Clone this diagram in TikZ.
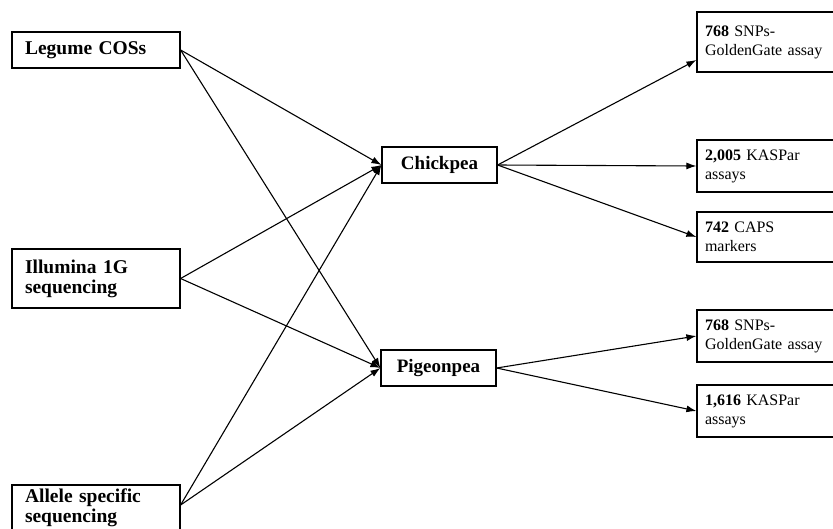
\documentclass[tikz,border=0pt]{standalone}
\usepackage{fontspec}
\setmainfont{Liberation Serif}
\usetikzlibrary{arrows.meta}
\begin{document}
\begin{tikzpicture}[x=1pt,y=-1pt,
  box/.style={draw, line width=1.2pt, rectangle, inner sep=0pt},
  lbox/.style={box, minimum width=168pt, text width=142pt, align=left, font=\fontsize{19.5}{20}\selectfont\bfseries},
  cbox/.style={box, minimum width=115pt, minimum height=36pt, font=\fontsize{19}{20}\selectfont\bfseries},
  rbox/.style={box, minimum width=145pt, text width=129pt, minimum height=52pt, align=left, font=\fontsize{16}{19}\selectfont},
  arr/.style={line width=1.1pt, -{Latex[length=10pt,width=7pt]}}]
\useasboundingbox (0,0) rectangle (833,528);
\node[lbox, minimum height=36pt] (leg) at (96,50) {Legume COSs};
\node[lbox, minimum height=59pt] (ill) at (96,278.5) {Illumina 1G\\sequencing};
\node[lbox, minimum height=46pt] (all) at (96,508) {Allele specific\\sequencing};
\node[cbox] (chk) at (439.5,165) {Chickpea};
\node[cbox] (pig) at (438.5,368) {Pigeonpea};
\node[rbox, minimum height=60pt] (ga) at (769.5,42) {\textbf{768} SNPs-\\GoldenGate assay};
\node[rbox] (ka) at (769.5,166) {\textbf{2,005} KASPar\\assays};
\node[rbox, minimum height=50pt] (ca) at (769.5,237) {\textbf{742} CAPS\\markers};
\node[rbox] (gb) at (769.5,336) {\textbf{768} SNPs-\\GoldenGate assay};
\node[rbox] (kb) at (769.5,411) {\textbf{1,616} KASPar\\assays};
\draw[arr] (leg.east) -- (chk.west);
\draw[arr] (leg.east) -- (pig.west);
\draw[arr] (ill.east) -- (chk.west);
\draw[arr] (ill.east) -- (pig.west);
\draw[arr] ([yshift=3pt]all.east) -- (chk.west);
\draw[arr] ([yshift=3pt]all.east) -- (pig.west);
\draw[arr] (chk.east) -- ([yshift=-18pt]ga.west);
\draw[arr] (chk.east) -- (ka.west);
\draw[arr] (chk.east) -- (ca.west);
\draw[arr] (pig.east) -- (gb.west);
\draw[arr] (pig.east) -- (kb.west);
\end{tikzpicture}
\end{document}
